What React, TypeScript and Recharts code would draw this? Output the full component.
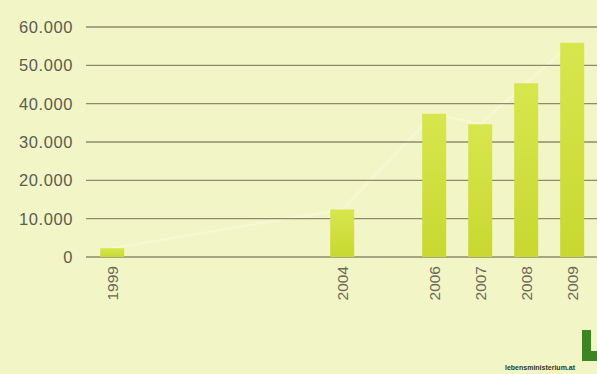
import React from "react";
import { ComposedChart, Bar, Line, XAxis, YAxis, CartesianGrid } from "recharts";

const years = [1999, 2004, 2006, 2007, 2008, 2009];
const values = [2300, 12400, 37400, 34600, 45300, 55900];
const yTicks = [0, 10000, 20000, 30000, 40000, 50000, 60000];
const yLabels = ["0", "10.000", "20.000", "30.000", "40.000", "50.000", "60.000"];

const data = years.map((y, i) => ({ year: y, value: values[i] }));

const FONT = '"Liberation Sans", Arial, sans-serif';
const X_DOMAIN: [number, number] = [1998.43, 2009.54];
const MARGIN = { top: 27, right: 0, bottom: 0, left: 0 };
const LINE_MARGIN = { top: 27, right: 0, bottom: 117, left: 86 };

const XTick = (props: any) => {
  const { x, y, payload } = props;
  return (
    <text
      x={x}
      y={y}
      transform={`rotate(-90, ${x}, ${y})`}
      textAnchor="end"
      dy="0.36em"
      fill="#6a6a5c"
      fontSize={15.5}
      fontFamily={FONT}
    >
      {payload.value}
    </text>
  );
};

const YTick = (props: any) => {
  const { x, y, payload } = props;
  const idx = yTicks.indexOf(payload.value);
  return (
    <text
      x={x}
      y={y}
      textAnchor="end"
      dy="0.36em"
      fill="#5c5c52"
      fontSize={16.5}
      letterSpacing={0.6}
      fontFamily={FONT}
    >
      {idx >= 0 ? yLabels[idx] : payload.value}
    </text>
  );
};

export default function App() {
  return (
    <div
      style={{
        position: "fixed",
        left: 0,
        top: 0,
        width: 597,
        height: 374,
        background: "#f2f5c6",
        overflow: "hidden",
      }}
    >
      <div style={{ position: "absolute", left: 0, top: 0 }}>
        <ComposedChart width={597} height={374} data={data} margin={LINE_MARGIN}>
          <XAxis
            dataKey="year"
            type="number"
            domain={X_DOMAIN}
            ticks={years}
            allowDataOverflow
            hide
          />
          <YAxis type="number" domain={[0, 60000]} ticks={yTicks} hide />
          <Line
            dataKey="value"
            stroke="#f6f8d3"
            strokeWidth={2.5}
            dot={false}
            isAnimationActive={false}
          />
        </ComposedChart>
      </div>
      <div style={{ position: "absolute", left: 0, top: 0 }}>
        <ComposedChart width={597} height={374} data={data} margin={MARGIN}>
          <defs>
            <linearGradient id="barGrad" x1="0" y1="0" x2="0" y2="1">
              <stop offset="0%" stopColor="#d8e64e" />
              <stop offset="100%" stopColor="#c8d830" />
            </linearGradient>
          </defs>
          <CartesianGrid vertical={false} stroke="#8e8b6c" strokeWidth={1.4} />
          <XAxis
            dataKey="year"
            type="number"
            domain={X_DOMAIN}
            ticks={years}
            allowDataOverflow
            axisLine={false}
            tickLine={false}
            tickSize={0}
            tickMargin={9}
            height={117}
            tick={<XTick />}
            interval={0}
          />
          <YAxis
            type="number"
            domain={[0, 60000]}
            ticks={yTicks}
            axisLine={false}
            tickLine={false}
            tickSize={0}
            tickMargin={13}
            width={86}
            tick={<YTick />}
            interval={0}
          />
          <Bar dataKey="value" fill="url(#barGrad)" barSize={24} isAnimationActive={false} />
        </ComposedChart>
      </div>
      <div
        style={{
          position: "absolute",
          left: 582,
          top: 330,
          width: 9,
          height: 31,
          background: "#3d8422",
        }}
      />
      <div
        style={{
          position: "absolute",
          left: 582,
          top: 351,
          width: 16,
          height: 10,
          background: "#3d8422",
        }}
      />
      <div
        style={{
          position: "absolute",
          left: 505,
          top: 364,
          fontFamily: FONT,
          fontSize: 7,
          fontWeight: "bold",
          color: "#2f3a20",
          whiteSpace: "nowrap",
        }}
      >
        lebensministerium.at
      </div>
    </div>
  );
}
